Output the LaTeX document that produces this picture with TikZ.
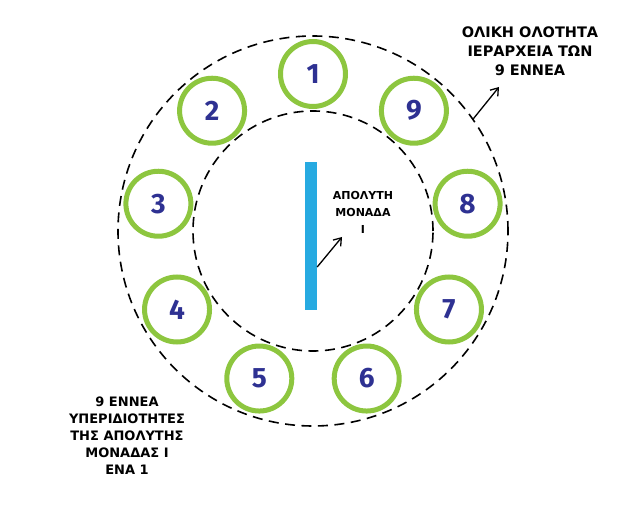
\documentclass[tikz,border=0pt]{standalone}
\usepackage{fontspec}
\setmainfont{Fira Sans}
\newfontfamily\labelfont{DejaVu Sans}
\usepackage{tikz}
\usetikzlibrary{positioning, arrows.meta}
\definecolor{RingGreen}{RGB}{141, 198, 63}
\definecolor{DigitBlue}{RGB}{46, 49, 146}
\definecolor{BarCyan}{RGB}{39, 170, 225}

\begin{document}
\begin{tikzpicture}[
            x=1pt, y=1pt,
            ring/.style={
                draw, circle, dash pattern=on 10pt off 6.5pt, line width=1.6pt,
                inner sep=0pt
            },
            numcircle/.style={
                draw=RingGreen, circle, line width=5pt, fill=white,
                minimum size=65pt, inner sep=0pt,
                font=\fontsize{28}{28}\selectfont\bfseries, text=DigitBlue
            },
            arrow/.style={-{Straight Barb[length=7pt, width=10pt]}, line width=1.3pt},
            tag/.style={align=center, font=\labelfont\bfseries\fontsize{13}{17}\selectfont}
        ]
            \useasboundingbox (-313,-275) rectangle (327,231);

            % Dashed rings
            \node[ring, minimum size=390pt] (outer) at (0,0) {};
            \node[ring, minimum size=240pt] (inner) at (0,0) {};

            % The nine numbered circles, 1 at the top, counting anticlockwise
            \foreach \n in {1,...,9} {
                \node[numcircle] (c\n) at ({90+40*(\n-1)}:157) {\n};
            }

            % Central bar
            \node[fill=BarCyan, minimum width=12pt, minimum height=148pt,
                  inner sep=0pt] (bar) at (-2,-5) {};

            % Label of the central bar
            \node[tag, font=\labelfont\bfseries\fontsize{11}{17}\selectfont] (unit) at (50,19)
                {ΑΠΟΛΥΤΗ\\ΜΟΝΑΔΑ\\Ι};
            \coordinate (tipmid) at (29,-6);
            \draw[arrow] ([yshift=-31pt]bar.east) -- (tipmid);

            % Label of the outer ring
            \node[tag, font=\labelfont\bfseries\fontsize{14.5}{19}\selectfont] (whole) at (217,180)
                {ΟΛΙΚΗ ΟΛΟΤΗΤΑ\\ΙΕΡΑΡΧΕΙΑ ΤΩΝ\\9 ΕΝΝΕΑ};
            \coordinate (tiptop) at (186,144);
            \draw[arrow] (outer.35.7) -- (tiptop);

            % Label bottom left
            \node[tag] (nine) at (-186,-205)
                {9 ΕΝΝΕΑ\\ΥΠΕΡΙΔΙΟΤΗΤΕΣ\\ΤΗΣ ΑΠΟΛΥΤΗΣ\\ΜΟΝΑΔΑΣ Ι\\ΕΝΑ 1};
        \end{tikzpicture}
\end{document}
